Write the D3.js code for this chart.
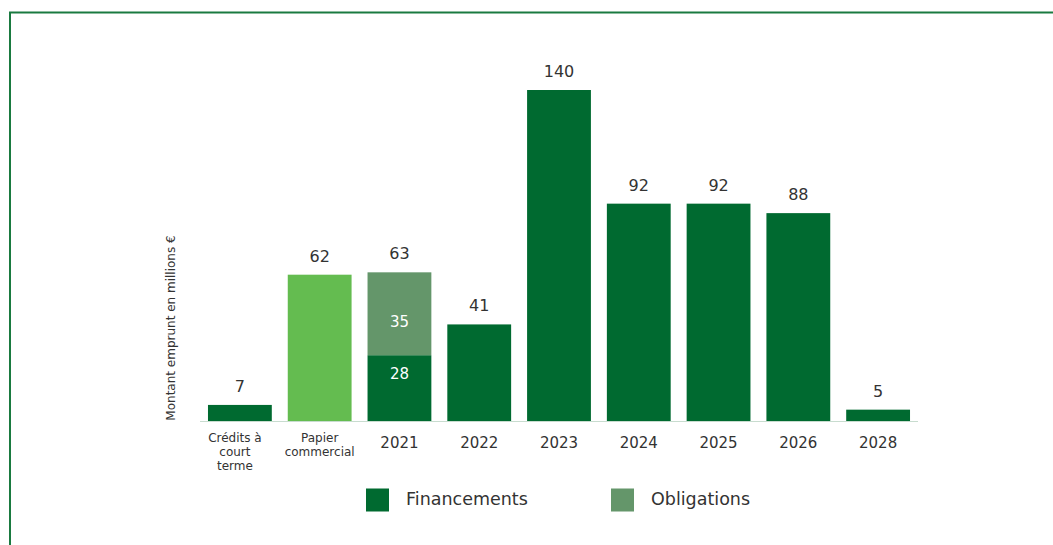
<!DOCTYPE html>
<html>
<head>
<meta charset="utf-8">
<script src="https://cdn.jsdelivr.net/npm/d3@7"></script>
<style>
  body { margin: 0; background: #fff; }
  text { font-family: "DejaVu Sans", sans-serif; fill: #333; }
</style>
</head>
<body>
<script>
// categories and values
var categories = ["Crédits à court terme", "Papier commercial", "2021", "2022", "2023", "2024", "2025", "2026", "2028"];
var financements = [7, 0, 28, 41, 140, 92, 92, 88, 5];
var obligations = [0, 0, 35, 0, 0, 0, 0, 0, 0];
var papier = [0, 62, 0, 0, 0, 0, 0, 0, 0];
var totals = [7, 62, 63, 41, 140, 92, 92, 88, 5];
var tickLines = [["Crédits à", "court", "terme"], ["Papier", "commercial"]];
var legendItems = ["Financements", "Obligations"];

var W = 1053, H = 545;
var cDark = "#006a30", cLight = "#64bc50", cObl = "#64966a";

var svg = d3.select("body").append("svg").attr("width", W).attr("height", H);

// frame (top and left only)
svg.append("path").attr("d", "M10,546 V12.5 H1053").attr("fill", "none")
  .attr("stroke", "#1a7a40").attr("stroke-width", 2);

var x = d3.scaleBand().domain(categories).range([200, 918]).paddingInner(0.2).paddingOuter(0.1);
var y = d3.scaleLinear().domain([0, 140]).range([421.5, 90]);

var g = svg.append("g");

var rows = categories.map(function(c, i) {
  return { cat: c, fin: financements[i], obl: obligations[i], pap: papier[i], tot: totals[i] };
});

g.selectAll("rect.fin").data(rows.filter(function(d) { return d.fin > 0; })).enter().append("rect")
  .attr("x", function(d) { return x(d.cat); })
  .attr("width", x.bandwidth())
  .attr("y", function(d) { return y(d.fin); })
  .attr("height", function(d) { return y(0) - y(d.fin); })
  .attr("fill", cDark);

g.selectAll("rect.obl").data(rows.filter(function(d) { return d.obl > 0; })).enter().append("rect")
  .attr("x", function(d) { return x(d.cat); })
  .attr("width", x.bandwidth())
  .attr("y", function(d) { return y(d.fin + d.obl); })
  .attr("height", function(d) { return y(d.fin) - y(d.fin + d.obl); })
  .attr("fill", cObl);

g.selectAll("rect.pap").data(rows.filter(function(d) { return d.pap > 0; })).enter().append("rect")
  .attr("x", function(d) { return x(d.cat); })
  .attr("width", x.bandwidth())
  .attr("y", function(d) { return y(d.pap); })
  .attr("height", function(d) { return y(0) - y(d.pap); })
  .attr("fill", cLight);

// baseline
g.append("line").attr("x1", 200).attr("x2", 918).attr("y1", 421.5).attr("y2", 421.5)
  .attr("stroke", "#c8dccf").attr("stroke-width", 1);

// totals above bars
g.selectAll("text.tot").data(rows).enter().append("text")
  .attr("x", function(d) { return x(d.cat) + x.bandwidth() / 2; })
  .attr("y", function(d) { return y(d.tot) - 13; })
  .attr("text-anchor", "middle").style("font-size", "16px")
  .text(function(d) { return d.tot; });

// labels inside the stacked 2021 bar
rows.filter(function(d) { return d.obl > 0; }).forEach(function(d) {
  var cx = x(d.cat) + x.bandwidth() / 2;
  g.append("text").attr("x", cx).attr("y", y(d.fin / 2) - 9).attr("text-anchor", "middle")
    .style("font-size", "15px").style("fill", "#fff").text(d.fin);
  g.append("text").attr("x", cx).attr("y", y(d.fin + d.obl / 2) + 13).attr("text-anchor", "middle")
    .style("font-size", "15px").style("fill", "#fff").text(d.obl);
});

// x tick labels (first one sits a bit left of its bar in the original)
var tickShift = [-5, 0];
categories.forEach(function(c, i) {
  var cx = x(c) + x.bandwidth() / 2;
  if (i < 2) {
    tickLines[i].forEach(function(line, k) {
      g.append("text").attr("x", cx + tickShift[i]).attr("y", 442 + k * 14).attr("text-anchor", "middle")
        .style("font-size", "12px").text(line);
    });
  } else {
    g.append("text").attr("x", cx).attr("y", 448).attr("text-anchor", "middle")
      .style("font-size", "15px").text(c);
  }
});

// y axis title
svg.append("text").attr("transform", "translate(175,328) rotate(-90)")
  .attr("text-anchor", "middle").style("font-size", "12px")
  .text("Montant emprunt en millions €");

// legend
var legX = [366, 611];
var legC = [cDark, cObl];
legendItems.forEach(function(t, i) {
  svg.append("rect").attr("x", legX[i]).attr("y", 488.5).attr("width", 23).attr("height", 23).attr("fill", legC[i]);
  svg.append("text").attr("x", legX[i] + 40).attr("y", 505).style("font-size", "17.5px").text(t);
});
</script>
</body>
</html>
